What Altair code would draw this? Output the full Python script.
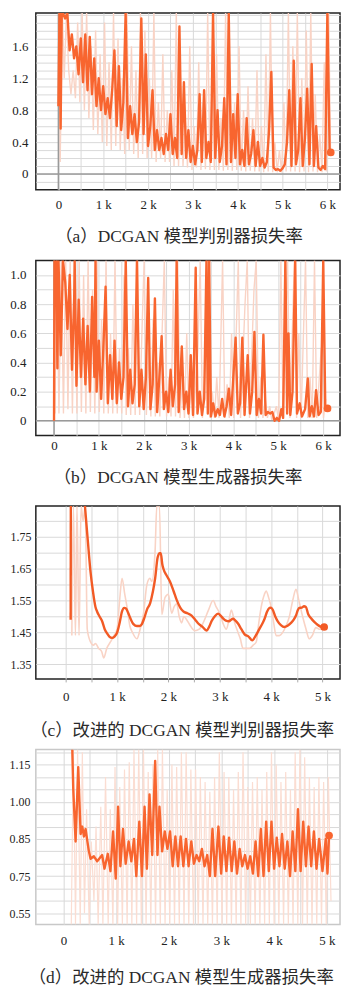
import altair as alt
import pandas as pd

ORANGE = "#F8652F"
ORANGE_C = "#F25A25"
PALE = "#F9D3C5"
PALE_D = "#FBDDD2"
GRID = "#D9D9D9"
LABEL_FONT = "Liberation Serif"
CAPTION_FONT = "'Liberation Serif', 'Noto Sans CJK SC'"

# ---------------- (a) DCGAN discriminator loss ----------------
a_main = [(0, 0.85), (25, 2.1), (50, 0.57), (75, 2.1), (100, 2.1), (150, 1.95), (200, 2.1), (250, 1.55),
          (300, 1.75), (350, 1.45), (400, 1.6), (450, 1.25), (500, 1.7), (550, 1.15), (600, 1.75), (650, 1.05),
          (700, 1.72), (750, 1.0), (800, 1.45), (850, 0.85), (900, 1.2), (950, 0.8), (1000, 1.1), (1050, 0.75),
          (1100, 0.95), (1150, 0.7), (1200, 1.05), (1250, 1.55), (1300, 0.6), (1350, 1.35), (1400, 0.55),
          (1450, 0.9), (1500, 2.1), (1550, 0.45), (1600, 0.85), (1650, 0.5), (1700, 0.75), (1750, 0.4),
          (1800, 0.65), (1850, 1.95), (1900, 0.5), (1950, 1.5), (2000, 0.35), (2050, 0.6), (2100, 1.05),
          (2150, 0.3), (2200, 0.55), (2250, 0.3), (2300, 0.45), (2350, 0.25), (2400, 0.5), (2450, 0.3),
          (2500, 0.75), (2550, 0.25), (2600, 0.45), (2650, 0.2), (2700, 1.85), (2750, 0.25), (2800, 1.15),
          (2850, 0.2), (2900, 0.55), (2950, 0.15), (3000, 0.35), (3050, 0.12), (3100, 0.3), (3150, 1.0),
          (3200, 0.15), (3250, 1.05), (3300, 0.2), (3350, 0.4), (3400, 0.15), (3450, 2.1), (3500, 0.2),
          (3550, 0.8), (3600, 0.15), (3650, 0.35), (3700, 0.95), (3750, 0.12), (3800, 2.1), (3850, 0.15),
          (3900, 0.75), (3950, 0.2), (4000, 1.0), (4050, 0.12), (4100, 0.3), (4150, 0.1), (4200, 0.7),
          (4250, 0.12), (4300, 0.25), (4350, 0.55), (4400, 0.1), (4450, 0.4), (4500, 0.1), (4550, 0.2),
          (4600, 0.08), (4650, 0.15), (4700, 0.55), (4750, 1.28), (4800, 0.08), (4850, 0.05), (4900, 0.06),
          (4950, 0.04), (5000, 0.07), (5050, 0.12), (5100, 0.4), (5150, 1.05), (5200, 0.1), (5250, 1.42),
          (5300, 0.12), (5350, 0.3), (5400, 0.95), (5450, 0.1), (5500, 0.45), (5550, 1.07), (5600, 0.12),
          (5650, 1.38), (5700, 0.1), (5750, 0.6), (5800, 0.08), (5850, 0.05), (5900, 0.1), (5950, 0.06),
          (6000, 2.1), (6050, 0.3), (6075, 0.27)]
a_raw = [(15, 2.1), (40, 0.15), (90, 2.1), (130, 1.2), (180, 2.1), (230, 1.3), (280, 1.0), (330, 1.3),
         (380, 0.95), (430, 1.9), (480, 0.9), (530, 2.1), (580, 0.8), (630, 2.1), (680, 0.7), (730, 1.6),
         (780, 0.55), (830, 1.8), (880, 0.5), (930, 1.5), (980, 0.4), (1030, 1.9), (1080, 0.35), (1130, 1.4),
         (1180, 0.3), (1230, 2.1), (1280, 0.35), (1330, 1.7), (1380, 0.3), (1430, 1.2), (1480, 0.25),
         (1530, 2.1), (1580, 0.3), (1630, 1.6), (1680, 0.25), (1730, 1.3), (1780, 0.2), (1830, 2.1),
         (1880, 0.25), (1930, 1.8), (1980, 0.2), (2030, 1.2), (2080, 0.2), (2130, 2.1), (2180, 0.15),
         (2230, 0.9), (2280, 0.2), (2330, 1.5), (2380, 0.15), (2430, 0.8), (2480, 0.15), (2530, 1.3),
         (2580, 0.1), (2630, 2.1), (2680, 0.1), (2730, 1.1), (2780, 0.1), (2830, 0.7), (2880, 0.08),
         (2930, 1.6), (2980, 0.05), (3030, 0.6), (3080, 0.08), (3130, 1.4), (3180, 0.05), (3230, 0.9),
         (3280, 0.06), (3330, 2.1), (3380, 0.05), (3430, 1.2), (3480, 0.05), (3530, 1.5), (3580, 0.05),
         (3630, 0.7), (3680, 0.04), (3730, 2.1), (3780, 0.05), (3830, 1.3), (3880, 0.04), (3930, 0.9),
         (3980, 0.05), (4030, 1.6), (4080, 0.04), (4130, 0.8), (4180, 0.03), (4230, 1.1), (4280, 0.04),
         (4330, 0.7), (4380, 0.03), (4430, 1.3), (4480, 0.03), (4530, 0.6), (4580, 0.02), (4630, 1.5),
         (4680, 0.03), (4730, 2.1), (4780, 0.02), (4830, 0.4), (4880, 0.02), (4930, 0.3), (4980, 0.02),
         (5030, 0.9), (5080, 0.03), (5130, 2.1), (5180, 0.03), (5230, 1.6), (5280, 0.03), (5330, 2.1),
         (5380, 0.02), (5430, 1.2), (5480, 0.03), (5530, 1.8), (5580, 0.02), (5630, 2.1), (5680, 0.03),
         (5730, 1.0), (5780, 0.02), (5830, 0.5), (5880, 0.02), (5930, 1.4), (5980, 0.03), (6030, 2.1),
         (6070, 0.3)]
a_end = [(6075, 0.27)]
a_y_ticks = [0, 0.4, 0.8, 1.2, 1.6]
a_y_labels = ["0", "0.4", "0.8", "1.2", "1.6"]

# ---------------- (b) DCGAN generator loss ----------------
b_main = [(0, 0.0), (10, 1.2), (50, 1.2), (75, 0.36), (100, 1.2), (150, 0.45), (200, 1.2), (250, 0.95),
          (300, 0.63), (350, 1.0), (400, 0.35), (450, 0.85), (460, 1.2), (500, 0.24), (550, 0.83), (600, 0.3),
          (650, 0.7), (700, 0.25), (750, 0.65), (800, 0.2), (850, 0.85), (900, 0.3), (925, 1.2), (950, 0.2),
          (1000, 0.55), (1050, 0.15), (1100, 0.5), (1150, 0.92), (1200, 0.12), (1250, 0.45), (1300, 0.15),
          (1350, 0.55), (1400, 0.12), (1450, 0.4), (1500, 0.15), (1550, 0.3), (1600, 1.2), (1650, 0.1),
          (1700, 0.35), (1750, 0.12), (1800, 0.25), (1850, 1.2), (1900, 0.1), (1950, 0.35), (2000, 0.08),
          (2050, 0.3), (2100, 0.98), (2150, 0.08), (2200, 0.25), (2250, 0.84), (2300, 0.06), (2350, 0.3),
          (2400, 0.58), (2450, 0.08), (2500, 0.2), (2550, 0.06), (2600, 0.35), (2650, 0.1), (2700, 0.25),
          (2735, 1.2), (2780, 0.06), (2850, 0.51), (2900, 0.08), (2950, 0.2), (3000, 0.05), (3050, 0.45),
          (3100, 0.04), (3160, 1.05), (3200, 0.05), (3250, 0.2), (3300, 0.04), (3350, 0.15), (3400, 1.2),
          (3430, 0.05), (3460, 1.2), (3500, 0.03), (3550, 0.12), (3600, 0.03), (3650, 0.08), (3700, 0.04),
          (3750, 0.15), (3800, 0.03), (3850, 0.1), (3900, 0.22), (3950, 0.04), (4050, 0.57), (4100, 0.05),
          (4150, 0.12), (4200, 0.57), (4250, 0.04), (4320, 0.45), (4370, 0.05), (4420, 0.2), (4470, 0.61),
          (4520, 0.04), (4570, 0.15), (4620, 0.05), (4670, 0.59), (4720, 0.04), (4770, 0.06), (4820, 0.05),
          (4870, 0.06), (4920, 0.0), (4970, 0.02), (5020, 0.0), (5070, 0.08), (5110, 0.02), (5160, 1.2),
          (5200, 0.05), (5230, 0.6), (5270, 0.04), (5320, 0.2), (5380, 1.2), (5420, 0.05), (5480, 0.12),
          (5530, 0.03), (5600, 0.08), (5660, 0.29), (5700, 0.03), (5750, 0.1), (5800, 0.03), (5845, 0.21),
          (5900, 0.04), (5950, 0.06), (6005, 1.2), (6050, 0.1), (6100, 0.085)]
b_raw = [(20, 0.05), (60, 1.2), (110, 0.05), (160, 1.2), (210, 0.05), (260, 1.2), (310, 0.08), (360, 1.2),
         (410, 0.05), (460, 1.1), (510, 0.05), (560, 1.2), (610, 0.06), (660, 1.0), (710, 0.05), (760, 1.2),
         (810, 0.06), (860, 0.9), (910, 0.05), (960, 1.2), (1010, 0.06), (1060, 0.7), (1110, 0.05),
         (1160, 1.2), (1210, 0.05), (1260, 0.6), (1310, 0.05), (1360, 1.2), (1410, 0.05), (1460, 0.5),
         (1510, 0.05), (1560, 1.0), (1610, 0.04), (1660, 0.5), (1710, 0.04), (1760, 0.8), (1810, 0.04),
         (1860, 1.2), (1910, 0.04), (1960, 0.6), (2010, 1.2), (2060, 0.04), (2110, 0.5), (2160, 0.03),
         (2210, 0.7), (2260, 0.03), (2310, 0.4), (2360, 0.03), (2410, 0.6), (2460, 1.2), (2510, 0.03),
         (2560, 0.3), (2610, 0.03), (2660, 0.9), (2710, 0.03), (2760, 1.2), (2810, 0.02), (2860, 0.3),
         (2910, 0.02), (2960, 0.6), (3010, 0.02), (3060, 0.25), (3110, 0.02), (3210, 0.5), (3260, 1.2),
         (3310, 0.02), (3360, 0.3), (3410, 1.2), (3480, 0.02), (3530, 0.2), (3580, 0.02), (3630, 0.3),
         (3680, 0.02), (3760, 1.2), (3810, 0.02), (3860, 0.25), (3910, 0.02), (3960, 0.6), (4010, 0.02),
         (4110, 1.2), (4160, 0.02), (4260, 0.8), (4310, 1.2), (4360, 0.02), (4460, 0.9), (4510, 1.2),
         (4560, 0.02), (4610, 0.3), (4660, 0.02), (4710, 0.15), (4760, 0.02), (4810, 0.1), (4860, 0.0),
         (4960, 0.1), (5010, 0.0), (5060, 1.2), (5110, 0.02), (5210, 1.2), (5260, 0.02), (5360, 1.2),
         (5410, 0.02), (5460, 0.6), (5510, 0.02), (5610, 1.2), (5660, 0.02), (5710, 0.3), (5760, 0.02),
         (5810, 1.2), (5860, 0.02), (5960, 0.5), (6010, 0.02), (6060, 0.15)]
b_end = [(6100, 0.085)]
b_y_ticks = [0, 0.2, 0.4, 0.6, 0.8, 1.0]
b_y_labels = ["0", "0.2", "0.4", "0.6", "0.8", "1.0"]

# ---------------- (c) improved DCGAN discriminator loss ----------------
c_main_head = [(97, 1.49), (100, 1.90)]
c_main = [(375, 1.86), (430, 1.74), (484, 1.64),
          (530, 1.58), (580, 1.53), (613, 1.515), (660, 1.50), (710, 1.485), (760, 1.46), (806, 1.447),
          (850, 1.437), (903, 1.433), (950, 1.437), (1000, 1.449), (1050, 1.48), (1097, 1.516),
          (1140, 1.527), (1174, 1.525), (1220, 1.51), (1258, 1.495), (1320, 1.476), (1387, 1.470),
          (1440, 1.470), (1484, 1.476), (1530, 1.495), (1581, 1.521), (1645, 1.542), (1700, 1.58),
          (1742, 1.620), (1790, 1.685), (1830, 1.699), (1852, 1.699), (1880, 1.665), (1903, 1.65),
          (1960, 1.63), (2032, 1.609), (2100, 1.58), (2161, 1.552), (2230, 1.528), (2290, 1.516),
          (2370, 1.510), (2452, 1.503), (2520, 1.49), (2581, 1.478), (2660, 1.468), (2742, 1.456),
          (2800, 1.47), (2839, 1.485), (2900, 1.500), (2968, 1.509), (3020, 1.502), (3065, 1.494),
          (3120, 1.487), (3181, 1.485), (3220, 1.490), (3258, 1.493), (3300, 1.488), (3355, 1.478),
          (3420, 1.460), (3484, 1.444), (3560, 1.437), (3633, 1.425), (3700, 1.44), (3775, 1.462),
          (3830, 1.478), (3871, 1.492), (3920, 1.515), (3968, 1.527), (4000, 1.528), (4032, 1.521),
          (4080, 1.500), (4129, 1.485), (4190, 1.473), (4258, 1.467), (4320, 1.471), (4387, 1.480),
          (4440, 1.490), (4484, 1.503), (4520, 1.520), (4548, 1.527), (4600, 1.528), (4640, 1.532),
          (4677, 1.530), (4720, 1.508), (4774, 1.495), (4840, 1.483), (4903, 1.474), (4960, 1.468),
          (5032, 1.465)]
c_raw = [(120, 1.44), (150, 1.9), (190, 1.44), (220, 1.9), (260, 1.44), (300, 1.9), (340, 1.8), (380, 1.9),
         (420, 1.46), (484, 1.42), (540, 1.41), (581, 1.415), (640, 1.40), (700, 1.39), (742, 1.37),
         (800, 1.40), (871, 1.42), (940, 1.44), (1000, 1.46), (1050, 1.55), (1097, 1.62), (1150, 1.57),
         (1194, 1.53), (1250, 1.47), (1300, 1.45), (1387, 1.43), (1450, 1.46), (1516, 1.51), (1581, 1.60),
         (1640, 1.62), (1677, 1.61), (1742, 1.71), (1774, 1.85), (1826, 1.85), (1871, 1.506), (1935, 1.56),
         (2000, 1.57), (2064, 1.51), (2110, 1.53), (2161, 1.54), (2210, 1.50), (2258, 1.48), (2300, 1.50),
         (2355, 1.49), (2430, 1.47), (2516, 1.455), (2600, 1.46), (2677, 1.48), (2780, 1.52), (2871, 1.55),
         (2930, 1.53), (3000, 1.51), (3060, 1.48), (3129, 1.46), (3180, 1.49), (3226, 1.52), (3290, 1.48),
         (3355, 1.45), (3400, 1.43), (3452, 1.40), (3520, 1.40), (3581, 1.40), (3650, 1.41), (3710, 1.42),
         (3760, 1.48), (3807, 1.53), (3870, 1.57), (3903, 1.58), (3950, 1.56), (4000, 1.53), (4050, 1.48),
         (4097, 1.44), (4160, 1.44), (4226, 1.45), (4290, 1.47), (4355, 1.50), (4420, 1.55), (4484, 1.585),
         (4540, 1.55), (4613, 1.50), (4680, 1.46), (4742, 1.43), (4800, 1.44), (4871, 1.465), (4940, 1.46),
         (5000, 1.46)]
c_end = [(5032, 1.467)]
c_y_ticks = [1.35, 1.45, 1.55, 1.65, 1.75]
c_y_labels = ["1.35", "1.45", "1.55", "1.65", "1.75"]

# ---------------- (d) improved DCGAN generator loss ----------------
d_main = [(169, 1.25), (187, 1.053), (232, 0.84), (282, 1.14), (327, 0.87), (358, 0.90), (390, 0.86),
          (421, 0.89), (484, 0.80), (516, 0.77), (579, 0.78), (642, 0.76), (736, 0.785), (780, 0.73),
          (843, 0.79), (893, 0.72), (943, 0.88), (994, 0.69), (1038, 0.98), (1082, 0.74), (1132, 0.89),
          (1182, 0.75), (1239, 0.84), (1289, 0.76), (1340, 0.85), (1384, 0.70), (1441, 0.92), (1491, 0.70),
          (1541, 0.98), (1585, 0.73), (1635, 1.03), (1686, 0.785), (1742, 1.165), (1786, 0.785), (1824, 0.98),
          (1874, 0.80), (1925, 0.88), (1975, 0.81), (2025, 0.88), (2075, 0.74), (2126, 0.86), (2176, 0.74),
          (2226, 0.86), (2277, 0.74), (2327, 0.85), (2377, 0.74), (2428, 0.84), (2478, 0.75), (2528, 0.785),
          (2579, 0.76), (2629, 0.81), (2679, 0.74), (2730, 0.785), (2780, 0.70), (2830, 0.89), (2881, 0.70),
          (2943, 0.90), (2994, 0.71), (3044, 0.86), (3094, 0.72), (3145, 0.855), (3195, 0.72), (3245, 0.84),
          (3296, 0.71), (3346, 0.81), (3396, 0.74), (3447, 0.785), (3497, 0.73), (3547, 0.78), (3598, 0.71),
          (3648, 0.84), (3698, 0.70), (3748, 0.89), (3799, 0.70), (3849, 0.92), (3899, 0.72), (3950, 0.92),
          (4000, 0.73), (4050, 0.855), (4101, 0.74), (4151, 0.87), (4201, 0.73), (4252, 0.84), (4302, 0.70),
          (4352, 0.88), (4403, 0.72), (4453, 0.97), (4503, 0.72), (4553, 0.92), (4604, 0.74), (4654, 0.90),
          (4704, 0.74), (4755, 0.88), (4805, 0.73), (4855, 0.85), (4918, 0.72), (4981, 0.85), (5013, 0.71),
          (5043, 0.864)]
d_raw = [(150, 0.45), (190, 1.25), (230, 0.45), (270, 1.25), (320, 0.5), (360, 1.2), (400, 0.55), (440, 0.97),
         (490, 0.5), (530, 0.84), (580, 0.6), (620, 0.9), (660, 0.48), (710, 0.98), (750, 0.5), (800, 1.1),
         (850, 0.45), (890, 0.97), (940, 0.45), (980, 1.14), (1030, 0.48), (1070, 1.06), (1120, 0.45),
         (1160, 1.13), (1210, 0.5), (1250, 1.16), (1300, 0.45), (1340, 1.22), (1390, 0.45), (1430, 1.25),
         (1480, 0.45), (1520, 1.25), (1570, 0.46), (1610, 1.12), (1660, 0.45), (1700, 1.15), (1750, 0.5),
         (1790, 1.25), (1840, 0.45), (1880, 1.25), (1930, 0.5), (1970, 1.05), (2020, 0.47), (2060, 1.15),
         (2110, 0.45), (2150, 1.14), (2200, 0.5), (2240, 1.2), (2290, 0.46), (2330, 1.2), (2380, 0.48),
         (2420, 1.13), (2470, 0.45), (2510, 1.13), (2560, 0.5), (2600, 1.1), (2650, 0.45), (2690, 1.08),
         (2740, 0.48), (2780, 1.04), (2830, 0.45), (2870, 1.1), (2920, 0.5), (2960, 1.2), (3010, 0.45),
         (3050, 1.12), (3100, 0.47), (3140, 1.1), (3190, 0.45), (3230, 1.05), (3280, 0.48), (3320, 1.12),
         (3370, 0.45), (3410, 1.2), (3460, 0.5), (3500, 1.06), (3550, 0.45), (3590, 1.08), (3640, 0.47),
         (3680, 1.1), (3730, 0.45), (3770, 1.05), (3820, 0.48), (3860, 1.12), (3910, 0.45), (3950, 1.2),
         (4000, 0.5), (4040, 1.15), (4090, 0.45), (4130, 1.08), (4180, 0.48), (4220, 1.12), (4270, 0.45),
         (4310, 1.05), (4360, 0.5), (4400, 1.2), (4450, 0.45), (4490, 1.25), (4540, 0.47), (4580, 1.18),
         (4630, 0.45), (4670, 1.1), (4720, 0.5), (4760, 1.06), (4810, 0.45), (4850, 1.1), (4900, 0.48),
         (4940, 1.08), (4990, 0.5), (5030, 1.1), (5080, 0.6)]
d_end = [(5043, 0.864)]
d_y_ticks = [0.55, 0.70, 0.85, 1.00, 1.15]
d_y_labels = ["0.55", "0.75", "0.85", "1.00", "1.15"]

x6_ticks = [0, 1000, 2000, 3000, 4000, 5000, 6000]
x6_labels = ["0", "1 k", "2 k", "3 k", "4 k", "5 k", "6 k"]
x5_ticks = [0, 1000, 2000, 3000, 4000, 5000]
x5_labels = ["0", "1 k", "2 k", "3 k", "4 k", "5 k"]

captions = ["（a）DCGAN 模型判别器损失率", "（b）DCGAN 模型生成器损失率",
            "（c）改进的 DCGAN 模型判别器损失率", "（d）改进的 DCGAN 模型生成器损失率"]


def label_expr(values, labels):
    expr = "''"
    for v, t in reversed(list(zip(values, labels))):
        expr = f"abs(datum.value - ({v})) < 1e-6 ? '{t}' : ({expr})"
    return expr


def label_size(values, labels, size):
    # labels that are blank get font size 0 so they take no room in the layout
    return {"condition": {"test": f"({label_expr(values, labels)}) != ''", "value": size}, "value": 0}


def df(pairs, seg=0):
    out = pd.DataFrame(pairs, columns=["step", "loss"])
    out["seg"] = seg
    return out


def panel(main_segs, raw, end, x_domain, x_grid, x_ticks, x_labels, y_domain, y_grid, y_ticks, y_labels,
          width, height, caption, cap_x, cap_y, y_size, y_pad, x_pad, frame, zero_lines,
          interp, main_color, main_w, x_tick_marks, pale_color, pale_w):
    x_enc = alt.X("step:Q", scale=alt.Scale(domain=x_domain, nice=False, zero=False, clamp=True),
                  axis=alt.Axis(values=x_grid, labelExpr=label_expr(x_ticks, x_labels), grid=True,
                                gridColor=GRID, gridWidth=1, domain=False, ticks=x_tick_marks,
                                tickColor="#AAAAAA", tickSize=3, labelFont=LABEL_FONT,
                                labelFontSize=label_size(x_ticks, x_labels, 13),
                                labelColor="#222222", labelPadding=x_pad, labelAngle=0,
                                labelOverlap=False, labelFlush=False, title=caption,
                                titleFont=CAPTION_FONT, titleFontSize=17.5, titleFontWeight="normal",
                                titleColor="#2a2a2a", titleX=cap_x, titleY=cap_y,
                                titleBaseline="middle", titleAlign="center"))
    y_enc = alt.Y("loss:Q", scale=alt.Scale(domain=y_domain, nice=False, zero=False, clamp=True),
                  axis=alt.Axis(values=y_grid, labelExpr=label_expr(y_ticks, y_labels), grid=True,
                                gridColor=GRID, gridWidth=1, domain=False, ticks=False,
                                labelFont=LABEL_FONT, labelFontSize=label_size(y_ticks, y_labels, y_size),
                                labelColor="#222222", labelPadding=y_pad, labelOverlap=False,
                                labelFlush=False, title=None))
    layers = [alt.Chart(df(raw)).mark_line(color=pale_color, strokeWidth=pale_w, clip=True, interpolate=interp)
              .encode(x=x_enc, y=y_enc)]
    if zero_lines:
        layers.append(alt.Chart(pd.DataFrame({"loss": [0.0]})).mark_rule(color="#9A9A9A", strokeWidth=1.5)
                      .encode(y=y_enc))
        layers.append(alt.Chart(pd.DataFrame({"step": [0]})).mark_rule(color="#9A9A9A", strokeWidth=1.5)
                      .encode(x=x_enc))
    main_df = pd.concat([df(s, i) for i, s in enumerate(main_segs)], ignore_index=True)
    layers.append(alt.Chart(main_df).mark_line(color=main_color, strokeWidth=main_w, clip=True,
                                               interpolate=interp, strokeJoin="round")
                  .encode(x=x_enc, y=y_enc, detail="seg:N"))
    layers.append(alt.Chart(df(end)).mark_circle(color=main_color, size=60, opacity=1)
                  .encode(x=x_enc, y=y_enc))
    return alt.layer(*layers).properties(
        width=width, height=height,
        view=alt.ViewBackground(stroke=frame, strokeWidth=1.5, fill="white"))


x_grid6 = [500 * i for i in range(13)]
x_grid5 = [500 * i for i in range(11)]

pa = panel([a_main], a_raw, a_end, [-503, 6282], x_grid6, x6_ticks, x6_labels,
           [-0.2, 2.02], [round(-0.1 + 0.1 * i, 2) for i in range(22)], a_y_ticks, a_y_labels,
           306, 178, captions[0], 143.5, 47, 13, 8, 9, "#222222", True, "linear", ORANGE, 2.4, False,
           PALE, 1.4)
pb = panel([b_main], b_raw, b_end, [-406, 6379], x_grid6, x6_ticks, x6_labels,
           [-0.1, 1.1], [round(0.1 * i, 2) for i in range(11)], b_y_ticks, b_y_labels,
           306, 176, captions[1], 142.5, 42, 13, 10, 4, "#222222", True, "linear", ORANGE, 2.4, False,
           PALE, 1.4)
pc = panel([c_main_head, c_main], c_raw, c_end, [-581, 5341], x_grid5, x5_ticks, x5_labels,
           [1.304, 1.847], [round(1.35 + 0.05 * i, 2) for i in range(10)], c_y_ticks, c_y_labels,
           306, 174, captions[2], 146.7, 52, 12, 5, 9, "#222222", False, "monotone", ORANGE_C, 2.4, True,
           PALE, 1.6)
pd_ = panel([d_main], d_raw, d_end, [-523, 5251], x_grid5, x5_ticks, x5_labels,
            [0.505, 1.211], [round(0.55 + 0.05 * i, 2) for i in range(14)], d_y_ticks, d_y_labels,
            306, 176, captions[3], 145.8, 53, 12, 6, 10, "#C8C8C8", False, "linear", ORANGE, 2.4, False,
            PALE_D, 1.2)

chart = alt.vconcat(pa, pb, pc, pd_, spacing=71, bounds="flush").properties(
    padding=0, background="white")

chart.save("out.html", embed_options={"renderer": "svg", "actions": False})
